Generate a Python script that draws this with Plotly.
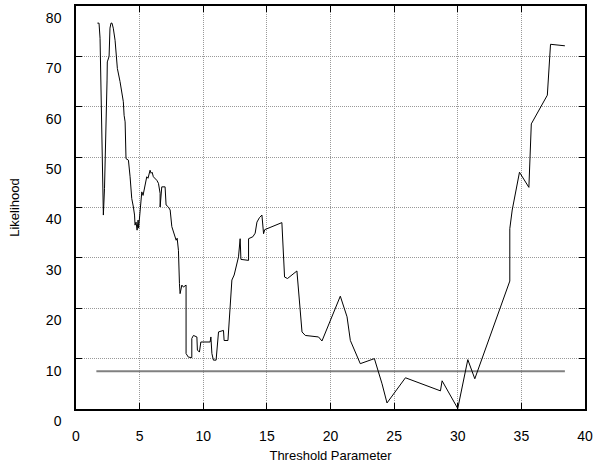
import plotly.graph_objects as go

threshold = [1.68, 1.81, 1.89, 1.99, 2.08, 2.15, 2.15, 2.24, 2.32, 2.40, 2.44, 2.46, 2.56, 2.60,
             2.67, 2.75, 2.83, 2.93, 3.07, 3.15, 3.25, 3.46, 3.60, 3.72, 3.78, 3.86, 3.93, 4.12,
             4.25, 4.38, 4.51, 4.60, 4.64, 4.72, 4.80, 4.88, 4.92, 5.04, 5.17, 5.27, 5.43, 5.56,
             5.66, 5.82, 5.90, 5.98, 6.08, 6.22, 6.35, 6.48, 6.61, 6.61, 6.74, 7.00, 7.08, 7.26,
             7.40, 7.53, 7.63, 7.79, 7.87, 7.95, 8.05, 8.13, 8.18, 8.32, 8.44, 8.65, 8.65, 8.83,
             9.10, 9.10, 9.23, 9.50, 9.54, 9.70, 9.81, 10.54, 10.60, 10.68, 10.80, 11.01, 11.12,
             11.20, 11.59, 11.64, 11.94, 12.12, 12.25, 12.43, 12.64, 12.77, 12.90, 12.96, 13.56,
             13.56, 13.90, 14.08, 14.22, 14.42, 14.61, 14.74, 14.83, 16.18, 16.39, 16.62, 17.36,
             17.76, 18.02, 19.06, 19.33, 19.98, 20.77, 21.30, 21.56, 22.34, 23.45, 24.05, 24.44,
             25.89, 28.64, 28.77, 30.00, 30.79, 31.34, 34.09, 34.09, 34.28, 34.85, 35.59, 35.78,
             37.04, 37.29, 38.42]
likelihood = [76.6, 76.6, 73.6, 59.3, 51.4, 43.4, 38.5, 43.8, 51.4, 56.3, 65.3, 68.9, 69.7, 70.0,
              75.6, 76.6, 76.6, 75.6, 73.2, 70.3, 67.6, 65.0, 62.3, 61.0, 58.3, 57.0, 49.7, 49.4,
              46.1, 41.8, 40.1, 38.5, 36.5, 37.1, 35.5, 37.5, 35.9, 40.1, 43.1, 42.4, 44.8, 46.1,
              45.8, 47.4, 46.8, 47.0, 46.1, 45.8, 45.4, 44.8, 42.8, 40.1, 44.1, 44.1, 40.5, 40.1,
              39.5, 36.2, 35.5, 34.2, 33.5, 33.9, 31.5, 24.9, 22.9, 24.6, 24.2, 24.6, 11.0, 10.3,
              10.2, 14.0, 14.6, 14.3, 11.7, 11.3, 13.3, 13.3, 14.3, 11.0, 9.7, 9.7, 13.6,
              15.3, 15.6, 13.6, 13.6, 20.3, 25.6, 26.6, 28.9, 30.2, 33.8, 29.7, 29.5,
              33.8, 34.2, 34.9, 37.1, 38.0, 38.5, 34.8, 35.6, 37.0, 26.2, 25.9, 27.4,
              15.3, 14.6, 14.3, 13.5, 17.6, 22.4, 18.3, 13.6, 9.0, 10.0, 5.0, 1.2,
              6.2, 3.6, 5.6, 0.1, 9.8, 6.0, 25.4, 35.8, 39.5, 47.0, 44.0, 56.6,
              62.3, 72.4, 72.1]

ref_x = [1.6, 38.42]
ref_y = [7.5, 7.5]

x_ticks = [0, 5, 10, 15, 20, 25, 30, 35, 40]
y_ticks = [0, 10, 20, 30, 40, 50, 60, 70, 80]

fig = go.Figure()
fig.add_trace(go.Scatter(x=ref_x, y=ref_y, mode="lines",
                         line=dict(color="#808080", width=2), showlegend=False))
fig.add_trace(go.Scatter(x=threshold, y=likelihood, mode="lines",
                         line=dict(color="black", width=1), showlegend=False))

font = dict(family="Liberation Sans, Arial, sans-serif", size=14, color="black")

fig.update_layout(
    width=597, height=466,
    margin=dict(l=76, r=12, t=6, b=57),
    paper_bgcolor="white", plot_bgcolor="white",
    font=font,
    showlegend=False,
    xaxis=dict(range=[0, 40], tickvals=x_ticks, ticks="inside", ticklen=6,
               tickcolor="black", showline=True, linecolor="black", linewidth=1.5,
               mirror="ticks", showgrid=True, gridcolor="#999999", griddash="1px,1px",
               gridwidth=1, zeroline=False, automargin=False,
               ticklabelstandoff=13,
               title=dict(text="Threshold Parameter", standoff=8,
                          font=dict(family="Liberation Sans, Arial, sans-serif", size=13))),
    yaxis=dict(range=[0, 80], tickvals=y_ticks, ticks="inside", ticklen=6,
               tickcolor="black", showline=True, linecolor="black", linewidth=1.5,
               mirror="ticks", showgrid=True, gridcolor="#999999", griddash="1px,1px",
               gridwidth=1, zeroline=False, automargin=False,
               ticklabelstandoff=10, ticklabelshift=12,
               title=dict(text="Likelihood", standoff=23,
                          font=dict(family="Liberation Sans, Arial, sans-serif", size=13))),
)

fig.write_html("out.html", config={"displayModeBar": False},
               post_script="document.body.style.margin='0';document.body.style.padding='0';")
